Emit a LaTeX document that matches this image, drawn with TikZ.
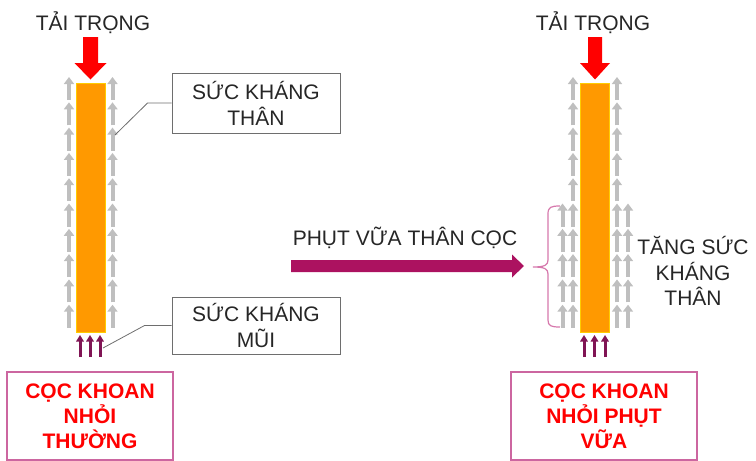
\documentclass[tikz,border=0pt]{standalone}
\usepackage{fontspec}
\setmainfont{Liberation Sans}
\usetikzlibrary{arrows.meta}
\definecolor{pileorange}{RGB}{255,153,0}
\definecolor{pileedge}{RGB}{255,204,0}
\definecolor{resgray}{RGB}{191,191,191}
\definecolor{tipviolet}{RGB}{128,20,84}
\definecolor{groutmag}{RGB}{172,18,96}
\definecolor{boxpink}{RGB}{204,102,160}
\definecolor{bracepink}{RGB}{214,120,172}
\definecolor{calloutgray}{RGB}{110,110,110}
\tikzset{
  lbl/.style={font=\fontsize{21}{26}\selectfont, text=black!85, inner sep=0pt, align=center},
  pilebody/.style={fill=pileorange, draw=pileedge, line width=0.8pt, minimum width=29pt, minimum height=249pt, inner sep=0pt},
  calloutbox/.style={draw=calloutgray, line width=0.9pt, fill=white, minimum width=168pt, inner sep=0pt, align=center, font=\fontsize{21}{26}\selectfont, text=black!85},
  titlebox/.style={draw=boxpink, line width=1.4pt, minimum width=166pt, minimum height=88pt, inner sep=0pt, align=center, font=\fontsize{21}{25}\selectfont\bfseries, text=red},
  shaftres/.style={draw=resgray, line width=4pt, -{Triangle[width=10pt,length=7pt]}},
  tipres/.style={draw=tipviolet, line width=3pt, -{Triangle[width=7.5pt,length=6.5pt]}},
  leader/.style={draw=calloutgray, line width=0.8pt},
  loadarrow/.style={fill=red},
  groutarrow/.style={fill=groutmag},
  bracestyle/.style={draw=bracepink, line width=1.2pt}
}
\begin{document}
\begin{tikzpicture}[x=1pt,y=-1pt]
\useasboundingbox (0,0) rectangle (756,461);

% ---------- left pile ----------
\node[lbl, anchor=base] (load1) at (93,30) {TẢI TRỌNG};
\fill[loadarrow] (83,37) -- (98,37) -- (98,63) -- (106.5,63) -- (90.5,79.5) -- (74.5,63) -- (83,63) -- cycle;
\foreach \i in {0,...,9} {
  \pgfmathsetmacro{\yt}{77+25.3*\i}
  \draw[shaftres] (69,\yt+23) -- (69,\yt);
  \draw[shaftres] (112.5,\yt+23) -- (112.5,\yt);
}
\node[pilebody] (pile1) at (90.5,207.5) {};
\foreach \xx in {80,90,100} {
  \draw[tipres] (\xx,357) -- (\xx,335);
}

% callouts
\node[calloutbox, minimum height=60pt] (shaft1) at (256,103) {SỨC KHÁNG\\THÂN};
\coordinate (shaftpt) at (115,135);
\draw[leader] (shaft1.west) -- ++(-24,0) -- (shaftpt);
\node[calloutbox, minimum height=57pt] (toe1) at (256,325.5) {SỨC KHÁNG\\MŨI};
\coordinate (toept) at (103,348);
\draw[leader] (toe1.west) -- ++(-27,0) -- (toept);

\node[titlebox] (title1) at (90,416) {CỌC KHOAN\\NHỎI\\THƯỜNG};

% ---------- middle arrow ----------
\node[lbl, anchor=base] (grout) at (405,245.5) {PHỤT VỮA THÂN CỌC};
\fill[groutarrow] (291,260) -- (512,260) -- (512,254.5) -- (524,266) -- (512,277.5) -- (512,272) -- (291,272) -- cycle;

% ---------- right pile ----------
\node[lbl, anchor=base] (load2) at (593,30) {TẢI TRỌNG};
\fill[loadarrow] (588,37) -- (602,37) -- (602,63) -- (610,63) -- (595,79.5) -- (580,63) -- (588,63) -- cycle;
\foreach \i in {0,...,9} {
  \pgfmathsetmacro{\yt}{77+25.3*\i}
  \draw[shaftres] (573,\yt+23) -- (573,\yt);
  \draw[shaftres] (617,\yt+23) -- (617,\yt);
}
\foreach \i in {5,...,9} {
  \pgfmathsetmacro{\yt}{77+25.3*\i}
  \draw[shaftres] (562.5,\yt+23) -- (562.5,\yt);
  \draw[shaftres] (628,\yt+23) -- (628,\yt);
}
\node[pilebody] (pile2) at (595,207.5) {};
\foreach \xx in {584,594.5,605} {
  \draw[tipres] (\xx,357) -- (\xx,335);
}

% brace
\draw[bracestyle] (560,206) .. controls (551,206) and (548,207) .. (548,214) -- (548,260)
  .. controls (548,265) and (545,267) .. (533,267)
  .. controls (545,267) and (548,269) .. (548,274) -- (548,320)
  .. controls (548,326) and (551,327) .. (560,327);

\node[lbl, font=\fontsize{21}{25.5}\selectfont] (gain) at (693,271) {TĂNG SỨC\\KHÁNG\\THÂN};

\node[titlebox, minimum width=186pt] (title2) at (604,416) {CỌC KHOAN\\NHỎI PHỤT\\VỮA};
\end{tikzpicture}
\end{document}
